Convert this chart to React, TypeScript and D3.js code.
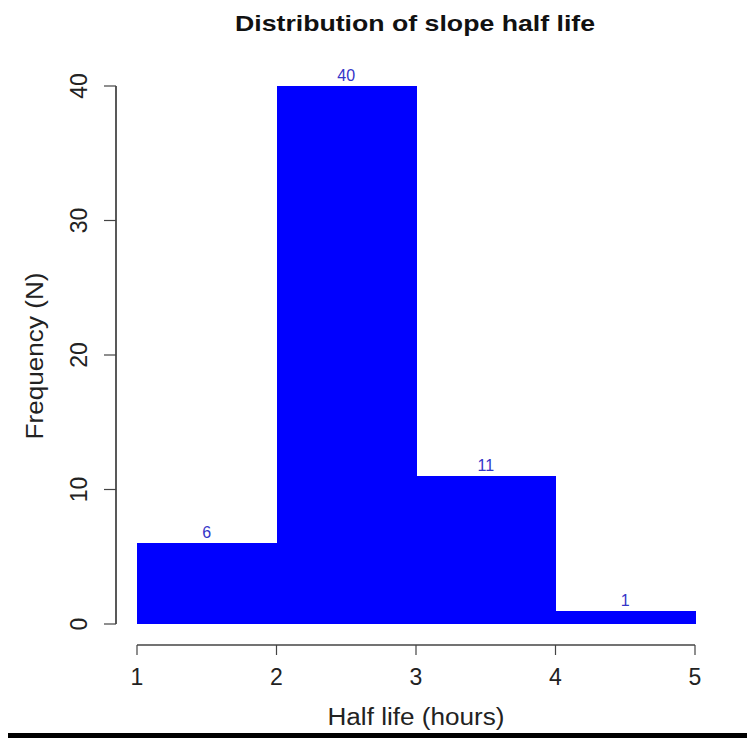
import React from "react";
import * as d3 from "d3";

// histogram bins (hours) and counts
const binEdges = [1, 2, 3, 4, 5];
const counts = [6, 40, 11, 1];
const yTicks = [0, 10, 20, 30, 40];
const xTicks = [1, 2, 3, 4, 5];

const title = "Distribution of slope half life";
const xLabel = "Half life (hours)";
const yLabel = "Frequency (N)";

const W = 747;
const H = 738;
const font = "'Liberation Sans', Arial, Helvetica, sans-serif";

const App = () => {
	const x = d3.scaleLinear().domain([1, 5]).range([137, 695]);
	const y = d3.scaleLinear().domain([0, 40]).range([624, 86]);

	const bins = counts.map((c, i) => ({ x0: binEdges[i], x1: binEdges[i + 1], n: c }));

	const axisY = 645;
	const axisX = 116;

	return (
		<svg
			width={W}
			height={H}
			style={{ position: "absolute", left: 0, top: 0, background: "#fff" }}
			fontFamily={font}
		>
			{/* title */}
			<text x={415} y={31} textAnchor="middle" fontWeight="bold" fontSize={22}
				textLength={360} lengthAdjust="spacingAndGlyphs" fill="#111">
				{title}
			</text>

			{/* bars */}
			{bins.map((b, i) => (
				<rect
					key={"bar" + i}
					x={x(b.x0)}
					y={y(b.n)}
					width={x(b.x1) - x(b.x0) + 0.5}
					height={y(0) - y(b.n)}
					fill="#0000ff"
					shapeRendering="crispEdges"
				/>
			))}

			{/* count labels */}
			{bins.map((b, i) => (
				<text
					key={"lab" + i}
					x={(x(b.x0) + x(b.x1)) / 2}
					y={y(b.n) - 5}
					textAnchor="middle"
					fontSize={16}
					fill="#3535c8"
				>
					{b.n}
				</text>
			))}

			{/* y axis */}
			<line x1={axisX} x2={axisX} y1={y(40)} y2={y(0)} stroke="#222" strokeWidth={1.5} />
			{yTicks.map(t => (
				<g key={"yt" + t}>
					<line x1={axisX - 12} x2={axisX} y1={y(t)} y2={y(t)} stroke="#444" strokeWidth={1.2} />
					<text
						transform={`translate(87,${y(t)}) rotate(-90)`}
						textAnchor="middle"
						fontSize={23}
						fill="#222"
					>
						{t}
					</text>
				</g>
			))}

			{/* x axis */}
			<line x1={x(1)} x2={x(5)} y1={axisY} y2={axisY} stroke="#444" strokeWidth={1.5} />
			{xTicks.map(t => (
				<g key={"xt" + t}>
					<line x1={x(t)} x2={x(t)} y1={axisY} y2={axisY + 10} stroke="#444" strokeWidth={1.2} />
					<text x={x(t)} y={685} textAnchor="middle" fontSize={23} fill="#222">
						{t}
					</text>
				</g>
			))}

			{/* axis labels */}
			<text x={416} y={725} textAnchor="middle" fontSize={23} fill="#222"
				textLength={177} lengthAdjust="spacingAndGlyphs">
				{xLabel}
			</text>
			<text
				transform="translate(43,356) rotate(-90)"
				textAnchor="middle"
				fontSize={23}
				fill="#222"
				textLength={167}
				lengthAdjust="spacingAndGlyphs"
			>
				{yLabel}
			</text>

			{/* bottom rule */}
			<rect x={8} y={733} width={W - 8} height={5} fill="#000" />
		</svg>
	);
};

export default App;
